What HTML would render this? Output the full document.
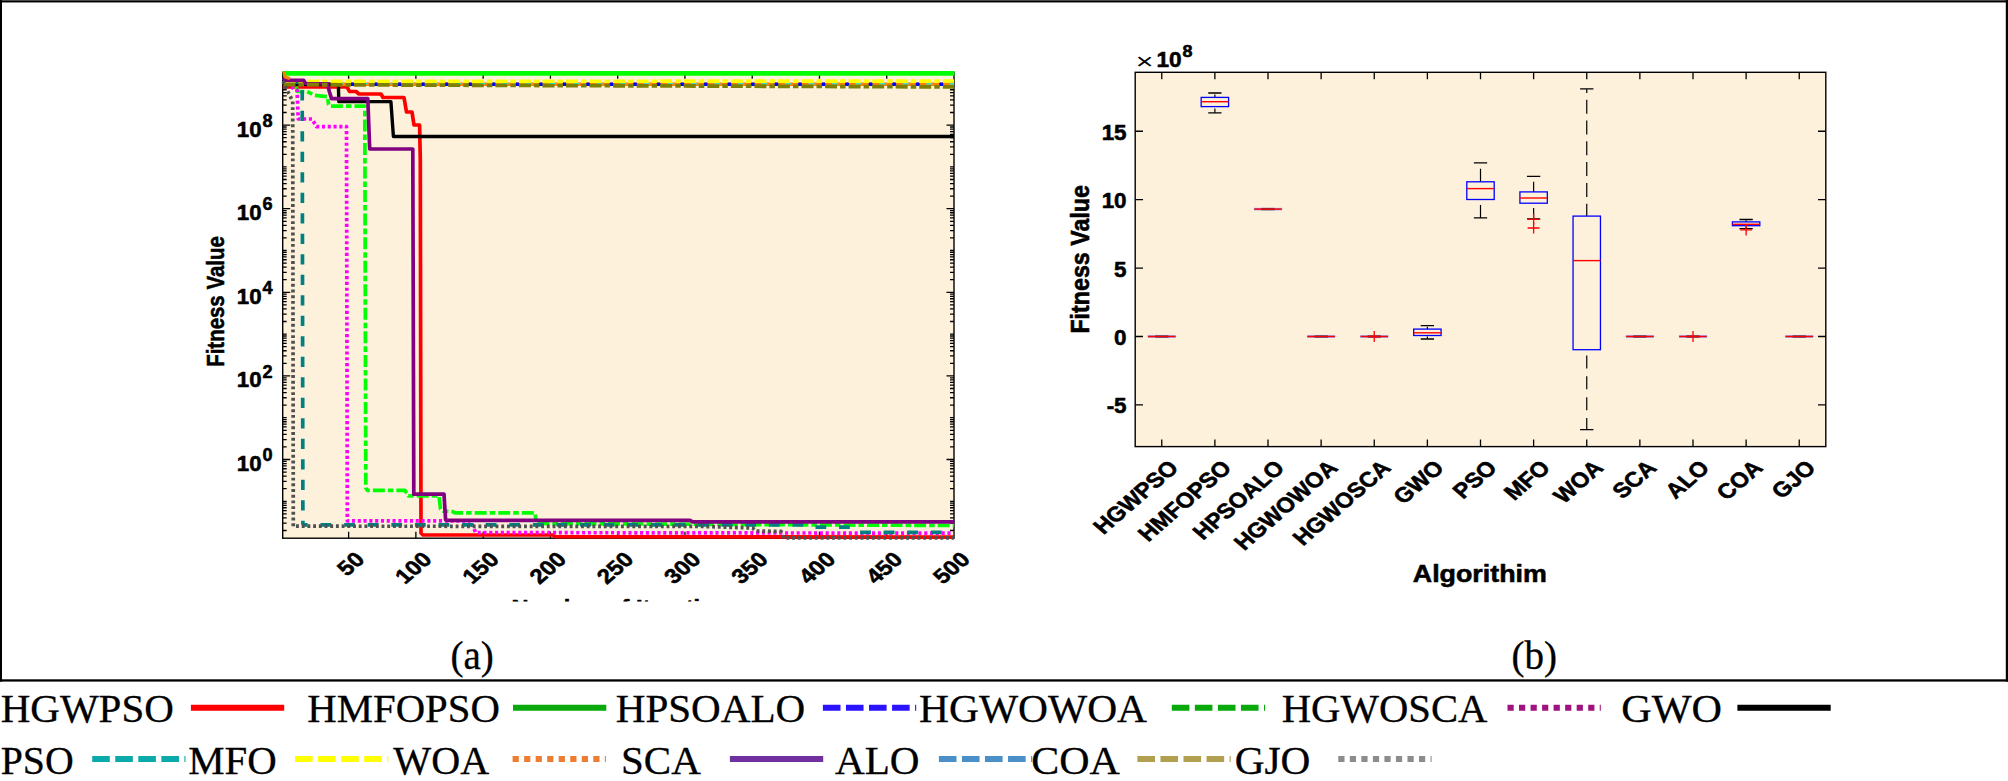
<!DOCTYPE html>
<html><head><meta charset="utf-8"><title>Figure</title>
<style>
html,body{margin:0;padding:0;background:#fff;}
svg{display:block;}
.b{font-family:"Liberation Sans", Arial, Helvetica, sans-serif;font-weight:700;fill:#000;stroke:#000;stroke-width:0.55px;stroke-linejoin:round;}
.s{font-family:"Liberation Serif", "Times New Roman", serif;fill:#000;stroke:#000;stroke-width:0.3px;}
</style></head><body>
<svg width="2008" height="781" viewBox="0 0 2008 781">
<defs>
<clipPath id="clipL"><rect x="281.7" y="69.8" width="673.1999999999999" height="470.3"/></clipPath>
<clipPath id="clipX"><rect x="480" y="590" width="300" height="11.6"/></clipPath>
</defs>
<rect width="2008" height="781" fill="#fff"/>
<rect x="282.7" y="72.3" width="671.3" height="465.90000000000003" fill="#FDF1DC"/>
<path d="M282.7 530.52h4.0M954.0 530.52h-4.0M282.7 523.16h4.0M954.0 523.16h-4.0M282.7 517.93h4.0M954.0 517.93h-4.0M282.7 513.88h4.0M954.0 513.88h-4.0M282.7 510.57h4.0M954.0 510.57h-4.0M282.7 507.77h4.0M954.0 507.77h-4.0M282.7 505.35h4.0M954.0 505.35h-4.0M282.7 503.21h4.0M954.0 503.21h-4.0M282.7 501.30h4.0M954.0 501.30h-4.0M282.7 488.72h4.0M954.0 488.72h-4.0M282.7 481.36h4.0M954.0 481.36h-4.0M282.7 476.13h4.0M954.0 476.13h-4.0M282.7 472.08h4.0M954.0 472.08h-4.0M282.7 468.77h4.0M954.0 468.77h-4.0M282.7 465.97h4.0M954.0 465.97h-4.0M282.7 463.55h4.0M954.0 463.55h-4.0M282.7 461.41h4.0M954.0 461.41h-4.0M282.7 459.50h7.5M954.0 459.50h-7.5M282.7 446.92h4.0M954.0 446.92h-4.0M282.7 439.56h4.0M954.0 439.56h-4.0M282.7 434.33h4.0M954.0 434.33h-4.0M282.7 430.28h4.0M954.0 430.28h-4.0M282.7 426.97h4.0M954.0 426.97h-4.0M282.7 424.17h4.0M954.0 424.17h-4.0M282.7 421.75h4.0M954.0 421.75h-4.0M282.7 419.61h4.0M954.0 419.61h-4.0M282.7 417.70h4.0M954.0 417.70h-4.0M282.7 405.12h4.0M954.0 405.12h-4.0M282.7 397.76h4.0M954.0 397.76h-4.0M282.7 392.53h4.0M954.0 392.53h-4.0M282.7 388.48h4.0M954.0 388.48h-4.0M282.7 385.17h4.0M954.0 385.17h-4.0M282.7 382.37h4.0M954.0 382.37h-4.0M282.7 379.95h4.0M954.0 379.95h-4.0M282.7 377.81h4.0M954.0 377.81h-4.0M282.7 375.90h7.5M954.0 375.90h-7.5M282.7 363.32h4.0M954.0 363.32h-4.0M282.7 355.96h4.0M954.0 355.96h-4.0M282.7 350.73h4.0M954.0 350.73h-4.0M282.7 346.68h4.0M954.0 346.68h-4.0M282.7 343.37h4.0M954.0 343.37h-4.0M282.7 340.57h4.0M954.0 340.57h-4.0M282.7 338.15h4.0M954.0 338.15h-4.0M282.7 336.01h4.0M954.0 336.01h-4.0M282.7 334.10h4.0M954.0 334.10h-4.0M282.7 321.52h4.0M954.0 321.52h-4.0M282.7 314.16h4.0M954.0 314.16h-4.0M282.7 308.93h4.0M954.0 308.93h-4.0M282.7 304.88h4.0M954.0 304.88h-4.0M282.7 301.57h4.0M954.0 301.57h-4.0M282.7 298.77h4.0M954.0 298.77h-4.0M282.7 296.35h4.0M954.0 296.35h-4.0M282.7 294.21h4.0M954.0 294.21h-4.0M282.7 292.30h7.5M954.0 292.30h-7.5M282.7 279.72h4.0M954.0 279.72h-4.0M282.7 272.36h4.0M954.0 272.36h-4.0M282.7 267.13h4.0M954.0 267.13h-4.0M282.7 263.08h4.0M954.0 263.08h-4.0M282.7 259.77h4.0M954.0 259.77h-4.0M282.7 256.97h4.0M954.0 256.97h-4.0M282.7 254.55h4.0M954.0 254.55h-4.0M282.7 252.41h4.0M954.0 252.41h-4.0M282.7 250.50h4.0M954.0 250.50h-4.0M282.7 237.92h4.0M954.0 237.92h-4.0M282.7 230.56h4.0M954.0 230.56h-4.0M282.7 225.33h4.0M954.0 225.33h-4.0M282.7 221.28h4.0M954.0 221.28h-4.0M282.7 217.97h4.0M954.0 217.97h-4.0M282.7 215.17h4.0M954.0 215.17h-4.0M282.7 212.75h4.0M954.0 212.75h-4.0M282.7 210.61h4.0M954.0 210.61h-4.0M282.7 208.70h7.5M954.0 208.70h-7.5M282.7 196.12h4.0M954.0 196.12h-4.0M282.7 188.76h4.0M954.0 188.76h-4.0M282.7 183.53h4.0M954.0 183.53h-4.0M282.7 179.48h4.0M954.0 179.48h-4.0M282.7 176.17h4.0M954.0 176.17h-4.0M282.7 173.37h4.0M954.0 173.37h-4.0M282.7 170.95h4.0M954.0 170.95h-4.0M282.7 168.81h4.0M954.0 168.81h-4.0M282.7 166.90h4.0M954.0 166.90h-4.0M282.7 154.32h4.0M954.0 154.32h-4.0M282.7 146.96h4.0M954.0 146.96h-4.0M282.7 141.73h4.0M954.0 141.73h-4.0M282.7 137.68h4.0M954.0 137.68h-4.0M282.7 134.37h4.0M954.0 134.37h-4.0M282.7 131.57h4.0M954.0 131.57h-4.0M282.7 129.15h4.0M954.0 129.15h-4.0M282.7 127.01h4.0M954.0 127.01h-4.0M282.7 125.10h7.5M954.0 125.10h-7.5M282.7 112.52h4.0M954.0 112.52h-4.0M282.7 105.16h4.0M954.0 105.16h-4.0M282.7 99.93h4.0M954.0 99.93h-4.0M282.7 95.88h4.0M954.0 95.88h-4.0M282.7 92.57h4.0M954.0 92.57h-4.0M282.7 89.77h4.0M954.0 89.77h-4.0M282.7 87.35h4.0M954.0 87.35h-4.0M282.7 85.21h4.0M954.0 85.21h-4.0M282.7 83.30h4.0M954.0 83.30h-4.0M348.62 538.2v-6.5M348.62 72.3v6.5M415.88 538.2v-6.5M415.88 72.3v6.5M483.15 538.2v-6.5M483.15 72.3v6.5M550.41 538.2v-6.5M550.41 72.3v6.5M617.68 538.2v-6.5M617.68 72.3v6.5M684.94 538.2v-6.5M684.94 72.3v6.5M752.21 538.2v-6.5M752.21 72.3v6.5M819.47 538.2v-6.5M819.47 72.3v6.5M886.74 538.2v-6.5M886.74 72.3v6.5" stroke="#000" stroke-width="1.3" fill="none"/>
<rect x="282.7" y="72.3" width="671.3" height="465.90000000000003" fill="none" stroke="#000" stroke-width="1.4"/>
<g clip-path="url(#clipL)">
<path d="M282.7 86.8 L347.0 86.8 L349.5 91.5 L356.0 91.5 L359.0 94.0 L381.0 94.0 L383.0 97.5 L404.0 97.5 L406.5 112.0 L412.0 112.0 L414.0 125.0 L419.6 125.0 L420.3 160.0 L421.0 533.0 L423.0 535.0 L553.0 535.0 L555.0 536.6 L954.0 537.1" stroke="#FF0000" stroke-width="3.7" fill="none" stroke-linejoin="round" />
<path d="M282.7 73.4 L954.5 73.4" stroke="#00FF00" stroke-width="4.6" fill="none" stroke-linejoin="round" />
<path d="M282.7 78.0 L288.0 79.0 L292.0 83.5 L300.0 84.2 L954.0 84.2" stroke="#FF8000" stroke-width="3.4" fill="none" stroke-linejoin="round" />
<path d="M282.7 78.0 L288.0 79.0 L292.0 83.5 L300.0 84.2" stroke="#0000FF" stroke-width="3.4" fill="none" stroke-linejoin="round" />
<path d="M300.0 84.2 L954.0 84.2" stroke="#0000FF" stroke-width="3.4" fill="none" stroke-linejoin="round" stroke-dasharray="4 19.55" stroke-dashoffset="-3.4"/>
<path d="M296.0 86.5 L297.5 91.5 L307.0 91.5 L314.5 95.3 L327.3 96.6 L328.6 104.5 L330.0 106.2 L364.8 106.2 L365.8 488.0 L367.5 490.3 L405.0 490.3 L408.2 495.9 L439.0 495.9 L440.5 509.0 L443.0 511.0 L452.0 511.5 L455.0 512.8 L535.0 512.8 L536.0 521.0 L540.0 523.5 L700.0 524.3 L954.0 525.5" stroke="#00FF00" stroke-width="3.7" fill="none" stroke-linejoin="round" stroke-dasharray="12 3 5.55 3" />
<path d="M291.0 87.0 L297.0 90.0 L298.2 119.0 L312.0 119.0 L316.5 126.6 L346.5 126.6 L347.3 520.8 L470.5 520.8 L475.7 532.6 L954.0 533.2" stroke="#FF00FF" stroke-width="3.7" fill="none" stroke-linejoin="round" stroke-dasharray="3.1 2.7" />
<path d="M282.7 84.0 L338.4 84.5 L338.8 101.6 L390.9 101.6 L393.4 136.5 L954.0 136.5" stroke="#000" stroke-width="3.4" fill="none" stroke-linejoin="round" />
<path d="M282.7 82.0 L300.0 82.5 L301.8 86.0" stroke="#008080" stroke-width="3.7" fill="none" stroke-linejoin="round" />
<path d="M302.2 86.0 L302.9 524.8" stroke="#008080" stroke-width="3.7" fill="none" stroke-linejoin="round" stroke-dasharray="10.3 10.2" stroke-dashoffset="16.2"/>
<path d="M302.9 524.8 L808.0 524.8 L812.0 527.1 L852.0 527.1 L856.0 532.3 L954.0 532.3" stroke="#008080" stroke-width="3.7" fill="none" stroke-linejoin="round" stroke-dasharray="10.8 12.8" stroke-dashoffset="6"/>
<path d="M282.7 81.5 L954.0 81.0" stroke="#FFFF00" stroke-width="3.7" fill="none" stroke-linejoin="round" stroke-dasharray="12 3 5.55 3" stroke-dashoffset="-0.7"/>
<path d="M310.0 83.6 L954.0 83.9" stroke="#00FFFF" stroke-width="1.2" fill="none" stroke-linejoin="round" stroke-dasharray="6 17.55" stroke-dashoffset="-4"/>
<path d="M282.7 80.3 L303.6 80.3 L305.7 83.5 L327.3 83.8 L329.5 92.0 L331.5 98.6 L367.8 98.6 L369.7 149.0 L412.8 149.0 L413.8 494.2 L444.0 494.2 L445.6 519.6 L447.0 520.3 L690.0 520.3 L692.5 521.9 L954.3 521.9" stroke="#800080" stroke-width="3.7" fill="none" stroke-linejoin="round" />
<path d="M282.7 84.6 L954.0 86.9" stroke="#808000" stroke-width="3.8" fill="none" stroke-linejoin="round" stroke-dasharray="12 3 5.55 3" stroke-dashoffset="-0.7"/>
<path d="M282.7 81.0 L286.0 88.0 L290.0 96.0 L292.7 101.0 L293.3 526.2 L700.0 526.4 L740.0 527.6 L752.5 528.0 L756.0 531.0 L781.0 531.4 L783.6 537.9 L954.0 537.9" stroke="#505050" stroke-width="3.7" fill="none" stroke-linejoin="round" stroke-dasharray="2.9 2.8" />
<path d="M284.0 71.5 L285.0 77.0 L290.0 78.5" stroke="#FF8000" stroke-width="3.2" fill="none" stroke-linejoin="round" />
</g>
<text transform="translate(261.6 136.5)" text-anchor="end" font-size="22.3" class="b">10</text>
<text transform="translate(262.5 126.8) scale(1.02 1)" font-size="17.75" class="b">8</text>
<text transform="translate(261.6 220.1)" text-anchor="end" font-size="22.3" class="b">10</text>
<text transform="translate(262.5 210.4) scale(1.02 1)" font-size="17.75" class="b">6</text>
<text transform="translate(261.6 303.7)" text-anchor="end" font-size="22.3" class="b">10</text>
<text transform="translate(262.5 294.0) scale(1.02 1)" font-size="17.75" class="b">4</text>
<text transform="translate(261.6 387.3)" text-anchor="end" font-size="22.3" class="b">10</text>
<text transform="translate(262.5 377.6) scale(1.02 1)" font-size="17.75" class="b">2</text>
<text transform="translate(261.6 470.9)" text-anchor="end" font-size="22.3" class="b">10</text>
<text transform="translate(262.5 461.2) scale(1.02 1)" font-size="17.75" class="b">0</text>
<text transform="translate(223.8 301.5) rotate(-90) scale(0.828 1)" text-anchor="middle" font-size="24.7" class="b">Fitness Value</text>
<text transform="translate(365.9 560.7) scale(1.16 1) rotate(-45)" text-anchor="end" font-size="20.6" class="b">50</text>
<text transform="translate(433.2 560.7) scale(1.16 1) rotate(-45)" text-anchor="end" font-size="20.6" class="b">100</text>
<text transform="translate(500.4 560.7) scale(1.16 1) rotate(-45)" text-anchor="end" font-size="20.6" class="b">150</text>
<text transform="translate(567.7 560.7) scale(1.16 1) rotate(-45)" text-anchor="end" font-size="20.6" class="b">200</text>
<text transform="translate(635.0 560.7) scale(1.16 1) rotate(-45)" text-anchor="end" font-size="20.6" class="b">250</text>
<text transform="translate(702.2 560.7) scale(1.16 1) rotate(-45)" text-anchor="end" font-size="20.6" class="b">300</text>
<text transform="translate(769.5 560.7) scale(1.16 1) rotate(-45)" text-anchor="end" font-size="20.6" class="b">350</text>
<text transform="translate(836.8 560.7) scale(1.16 1) rotate(-45)" text-anchor="end" font-size="20.6" class="b">400</text>
<text transform="translate(904.0 560.7) scale(1.16 1) rotate(-45)" text-anchor="end" font-size="20.6" class="b">450</text>
<text transform="translate(971.3 560.7) scale(1.16 1) rotate(-45)" text-anchor="end" font-size="20.6" class="b">500</text>
<g clip-path="url(#clipX)"><text transform="translate(511.4 613.8) scale(1.163 1)" font-size="20.3" class="b">Number of Iterations</text></g>
<rect x="1135.2" y="72.3" width="690.5999999999999" height="374.3" fill="#FDF1DC"/>
<path d="M1161.76 446.6v-7M1161.76 72.3v7M1214.88 446.6v-7M1214.88 72.3v7M1268.01 446.6v-7M1268.01 72.3v7M1321.13 446.6v-7M1321.13 72.3v7M1374.25 446.6v-7M1374.25 72.3v7M1427.38 446.6v-7M1427.38 72.3v7M1480.50 446.6v-7M1480.50 72.3v7M1533.62 446.6v-7M1533.62 72.3v7M1586.75 446.6v-7M1586.75 72.3v7M1639.87 446.6v-7M1639.87 72.3v7M1692.99 446.6v-7M1692.99 72.3v7M1746.12 446.6v-7M1746.12 72.3v7M1799.24 446.6v-7M1799.24 72.3v7M1135.2 131.25h7.8M1825.8 131.25h-7.8M1135.2 199.67h7.8M1825.8 199.67h-7.8M1135.2 268.09h7.8M1825.8 268.09h-7.8M1135.2 336.50h7.8M1825.8 336.50h-7.8M1135.2 404.91h7.8M1825.8 404.91h-7.8" stroke="#000" stroke-width="1.3" fill="none"/>
<path d="M1147.66 336.50h28.2" stroke="#0000FF" stroke-width="2.5" opacity="0.4"/>
<path d="M1155.11 336.50h13.3" stroke="#000" stroke-width="2.5" opacity="0.55"/>
<path d="M1148.06 336.50h27.4" stroke="#FF0000" stroke-width="1.4"/>
<path d="M1214.88 94.54V97.40M1214.88 108.46V112.80" stroke="#000" stroke-width="1.2"/>
<path d="M1208.23 93.00h13.3M1208.23 112.80h13.3" stroke="#000" stroke-width="1.3"/>
<rect x="1201.18" y="97.40" width="27.4" height="9.20" fill="none" stroke="#0000FF" stroke-width="1.3"/>
<path d="M1201.18 101.70h27.4" stroke="#FF0000" stroke-width="1.4"/>
<path d="M1253.91 209.10h28.2" stroke="#0000FF" stroke-width="2.5" opacity="0.4"/>
<path d="M1261.36 209.10h13.3" stroke="#000" stroke-width="2.5" opacity="0.55"/>
<path d="M1254.31 209.10h27.4" stroke="#FF0000" stroke-width="1.4"/>
<path d="M1307.03 336.50h28.2" stroke="#0000FF" stroke-width="2.5" opacity="0.4"/>
<path d="M1314.48 336.50h13.3" stroke="#000" stroke-width="2.5" opacity="0.55"/>
<path d="M1307.43 336.50h27.4" stroke="#FF0000" stroke-width="1.4"/>
<path d="M1360.15 336.50h28.2" stroke="#0000FF" stroke-width="2.5" opacity="0.4"/>
<path d="M1367.60 336.50h13.3" stroke="#000" stroke-width="2.5" opacity="0.55"/>
<path d="M1360.55 336.50h27.4" stroke="#FF0000" stroke-width="1.4"/>
<path d="M1368.25 336.50h12M1374.25 331.00v11" stroke="#FF0000" stroke-width="1.3"/>
<path d="M1427.38 326.83V329.10M1427.38 336.55V339.00" stroke="#000" stroke-width="1.2"/>
<path d="M1420.73 325.60h13.3M1420.73 339.00h13.3" stroke="#000" stroke-width="1.3"/>
<rect x="1413.68" y="329.10" width="27.4" height="6.40" fill="none" stroke="#0000FF" stroke-width="1.3"/>
<path d="M1413.68 332.80h27.4" stroke="#FF0000" stroke-width="1.4"/>
<path d="M1480.50 168.80V181.80M1480.50 205.00V217.90" stroke="#000" stroke-width="1.2"/>
<path d="M1473.85 162.80h13.3M1473.85 217.90h13.3" stroke="#000" stroke-width="1.3"/>
<rect x="1466.80" y="181.80" width="27.4" height="17.70" fill="none" stroke="#0000FF" stroke-width="1.3"/>
<path d="M1466.80 188.60h27.4" stroke="#FF0000" stroke-width="1.4"/>
<path d="M1533.62 181.76V191.90M1533.62 207.91V218.90" stroke="#000" stroke-width="1.2"/>
<path d="M1526.97 176.30h13.3M1526.97 218.90h13.3" stroke="#000" stroke-width="1.3"/>
<rect x="1519.92" y="191.90" width="27.4" height="11.30" fill="none" stroke="#0000FF" stroke-width="1.3"/>
<path d="M1519.92 198.00h27.4" stroke="#FF0000" stroke-width="1.4"/>
<path d="M1527.62 219.30h12M1533.62 213.80v11" stroke="#FF0000" stroke-width="1.3"/>
<path d="M1527.62 228.00h12M1533.62 222.50v11" stroke="#FF0000" stroke-width="1.3"/>
<path d="M1586.75 88.90V216.10" stroke="#000" stroke-width="1.2" stroke-dasharray="14 6.8" stroke-dashoffset="10"/>
<path d="M1586.75 349.70V429.70" stroke="#000" stroke-width="1.2" stroke-dasharray="13 7.9" stroke-dashoffset="-5.7"/>
<path d="M1580.10 88.90h13.3M1580.10 429.70h13.3" stroke="#000" stroke-width="1.3"/>
<rect x="1573.05" y="216.10" width="27.4" height="133.60" fill="none" stroke="#0000FF" stroke-width="1.3"/>
<path d="M1573.05 260.60h27.4" stroke="#FF0000" stroke-width="1.4"/>
<path d="M1625.77 336.50h28.2" stroke="#0000FF" stroke-width="2.5" opacity="0.4"/>
<path d="M1633.22 336.50h13.3" stroke="#000" stroke-width="2.5" opacity="0.55"/>
<path d="M1626.17 336.50h27.4" stroke="#FF0000" stroke-width="1.4"/>
<path d="M1678.89 336.50h28.2" stroke="#0000FF" stroke-width="2.5" opacity="0.4"/>
<path d="M1686.34 336.50h13.3" stroke="#000" stroke-width="2.5" opacity="0.55"/>
<path d="M1679.29 336.50h27.4" stroke="#FF0000" stroke-width="1.4"/>
<path d="M1686.99 336.50h12M1692.99 331.00v11" stroke="#FF0000" stroke-width="1.3"/>
<path d="M1746.12 220.34V221.90M1746.12 226.57V228.60" stroke="#000" stroke-width="1.2"/>
<path d="M1739.47 219.50h13.3M1739.47 228.60h13.3" stroke="#000" stroke-width="1.3"/>
<rect x="1732.42" y="221.90" width="27.4" height="3.80" fill="none" stroke="#0000FF" stroke-width="1.3"/>
<path d="M1732.42 224.30h27.4" stroke="#FF0000" stroke-width="1.4"/>
<path d="M1740.12 229.90h12M1746.12 224.40v11" stroke="#FF0000" stroke-width="1.3"/>
<path d="M1785.14 336.50h28.2" stroke="#0000FF" stroke-width="2.5" opacity="0.4"/>
<path d="M1792.59 336.50h13.3" stroke="#000" stroke-width="2.5" opacity="0.55"/>
<path d="M1785.54 336.50h27.4" stroke="#FF0000" stroke-width="1.4"/>
<rect x="1135.2" y="72.3" width="690.5999999999999" height="374.3" fill="none" stroke="#000" stroke-width="1.4"/>
<text transform="translate(1126.6 139.8) scale(1.02 1)" text-anchor="end" font-size="22" class="b">15</text>
<text transform="translate(1126.6 208.2) scale(1.02 1)" text-anchor="end" font-size="22" class="b">10</text>
<text transform="translate(1126.6 276.6) scale(1.02 1)" text-anchor="end" font-size="22" class="b">5</text>
<text transform="translate(1126.6 345.0) scale(1.02 1)" text-anchor="end" font-size="22" class="b">0</text>
<text transform="translate(1126.6 413.4) scale(1.02 1)" text-anchor="end" font-size="22" class="b">-5</text>
<text transform="translate(1135.75 69.0) scale(1.35 1)" font-size="22.4" font-family='"Liberation Sans", Arial, Helvetica, sans-serif'>×</text>
<text transform="translate(1181.7 67.0) scale(1.03 1)" text-anchor="end" font-size="22" class="b">10</text>
<text transform="translate(1182.6 57.4) scale(1.08 1)" font-size="16.6" class="b">8</text>
<text transform="translate(1088.7 259.3) scale(1.10 1) rotate(-90)" text-anchor="middle" font-size="23.25" class="b">Fitness Value</text>
<text transform="translate(1179.7 469.1) scale(1.155 1) rotate(-45) scale(0.968 1)" text-anchor="end" font-size="21.2" class="b">HGWPSO</text>
<text transform="translate(1232.8 469.1) scale(1.155 1) rotate(-45) scale(0.968 1)" text-anchor="end" font-size="21.2" class="b">HMFOPSO</text>
<text transform="translate(1285.9 469.1) scale(1.155 1) rotate(-45) scale(0.968 1)" text-anchor="end" font-size="21.2" class="b">HPSOALO</text>
<text transform="translate(1339.0 469.1) scale(1.155 1) rotate(-45) scale(0.968 1)" text-anchor="end" font-size="21.2" class="b">HGWOWOA</text>
<text transform="translate(1392.2 469.1) scale(1.155 1) rotate(-45) scale(0.968 1)" text-anchor="end" font-size="21.2" class="b">HGWOSCA</text>
<text transform="translate(1445.3 469.1) scale(1.155 1) rotate(-45) scale(0.968 1)" text-anchor="end" font-size="21.2" class="b">GWO</text>
<text transform="translate(1498.4 469.1) scale(1.155 1) rotate(-45) scale(0.968 1)" text-anchor="end" font-size="21.2" class="b">PSO</text>
<text transform="translate(1551.5 469.1) scale(1.155 1) rotate(-45) scale(0.968 1)" text-anchor="end" font-size="21.2" class="b">MFO</text>
<text transform="translate(1604.6 469.1) scale(1.155 1) rotate(-45) scale(0.968 1)" text-anchor="end" font-size="21.2" class="b">WOA</text>
<text transform="translate(1657.8 469.1) scale(1.155 1) rotate(-45) scale(0.968 1)" text-anchor="end" font-size="21.2" class="b">SCA</text>
<text transform="translate(1710.9 469.1) scale(1.155 1) rotate(-45) scale(0.968 1)" text-anchor="end" font-size="21.2" class="b">ALO</text>
<text transform="translate(1764.0 469.1) scale(1.155 1) rotate(-45) scale(0.968 1)" text-anchor="end" font-size="21.2" class="b">COA</text>
<text transform="translate(1817.1 469.1) scale(1.155 1) rotate(-45) scale(0.968 1)" text-anchor="end" font-size="21.2" class="b">GJO</text>
<text transform="translate(1479.8 581.8) scale(1.137 1)" text-anchor="middle" font-size="23.6" class="b">Algorithim</text>
<rect x="0" y="0" width="2008" height="2.45" fill="#000"/>
<rect x="0" y="0" width="2008" height="1" fill="#484848"/>
<rect x="0" y="0" width="2.0" height="681.6" fill="#000"/>
<rect x="2005.8" y="0" width="2.2" height="681.6" fill="#000"/>
<rect x="0" y="679.3" width="2008" height="2.3" fill="#000"/>
<text x="472.2" y="668.6" text-anchor="middle" font-size="39" class="s">(a)</text>
<text x="1534.2" y="668.6" text-anchor="middle" font-size="39" class="s">(b)</text>
<text transform="translate(0.7 721.7) scale(1.0 1)" font-size="41" class="s">HGWPSO</text>
<path d="M190.9 707.8H284.2" stroke="#FF0000" stroke-width="6.1"/>
<text transform="translate(307.3 721.7) scale(0.995 1)" font-size="41" class="s">HMFOPSO</text>
<path d="M513 707.8H606.3" stroke="#09A80B" stroke-width="6.1"/>
<text transform="translate(615.7 721.7) scale(1.003 1)" font-size="41" class="s">HPSOALO</text>
<path d="M822.9 707.8H916.2" stroke="#2A14FF" stroke-width="6.1" stroke-dasharray="17.6 5.45"/>
<text transform="translate(919 721.7) scale(1.012 1)" font-size="41" class="s">HGWOWOA</text>
<path d="M1171.8 707.8H1265.1" stroke="#09A80B" stroke-width="6.1" stroke-dasharray="17.6 5.45"/>
<text transform="translate(1281.7 721.7) scale(0.993 1)" font-size="41" class="s">HGWOSCA</text>
<path d="M1507.5 707.8H1600.8" stroke="#A0127F" stroke-width="6.1" stroke-dasharray="6.2 5.33"/>
<text transform="translate(1621.3 721.7) scale(1.029 1)" font-size="41" class="s">GWO</text>
<path d="M1737.4 707.8H1830.7" stroke="#000000" stroke-width="6.1"/>
<text transform="translate(0.7 773.6) scale(0.972 1)" font-size="41" class="s">PSO</text>
<path d="M92.2 759.0H185.5" stroke="#0AAAAA" stroke-width="6.1" stroke-dasharray="17.6 5.45"/>
<text transform="translate(188.3 773.6) scale(0.9965 1)" font-size="41" class="s">MFO</text>
<path d="M295 759.0H388.3" stroke="#FFFF00" stroke-width="6.1" stroke-dasharray="17.6 5.45"/>
<text transform="translate(393.3 773.6) scale(0.979 1)" font-size="41" class="s">WOA</text>
<path d="M512.6 759.0H605.9" stroke="#ED7D31" stroke-width="6.1" stroke-dasharray="6.2 5.33"/>
<text transform="translate(621 773.6) scale(1.0 1)" font-size="41" class="s">SCA</text>
<path d="M729.9 759.0H823.2" stroke="#7030A0" stroke-width="6.1"/>
<text transform="translate(835 773.6) scale(1.004 1)" font-size="41" class="s">ALO</text>
<path d="M938.9 759.0H1032.2" stroke="#4A8FC8" stroke-width="6.1" stroke-dasharray="17.6 5.45"/>
<text transform="translate(1031.3 773.6) scale(1.024 1)" font-size="41" class="s">COA</text>
<path d="M1137.4 759.0H1230.7" stroke="#B0A050" stroke-width="6.1" stroke-dasharray="17.6 5.45"/>
<text transform="translate(1234.7 773.6) scale(1.008 1)" font-size="41" class="s">GJO</text>
<path d="M1338.3 759.0H1431.6" stroke="#8C8C8C" stroke-width="6.1" stroke-dasharray="6.2 5.33"/>
</svg>
</body></html>
